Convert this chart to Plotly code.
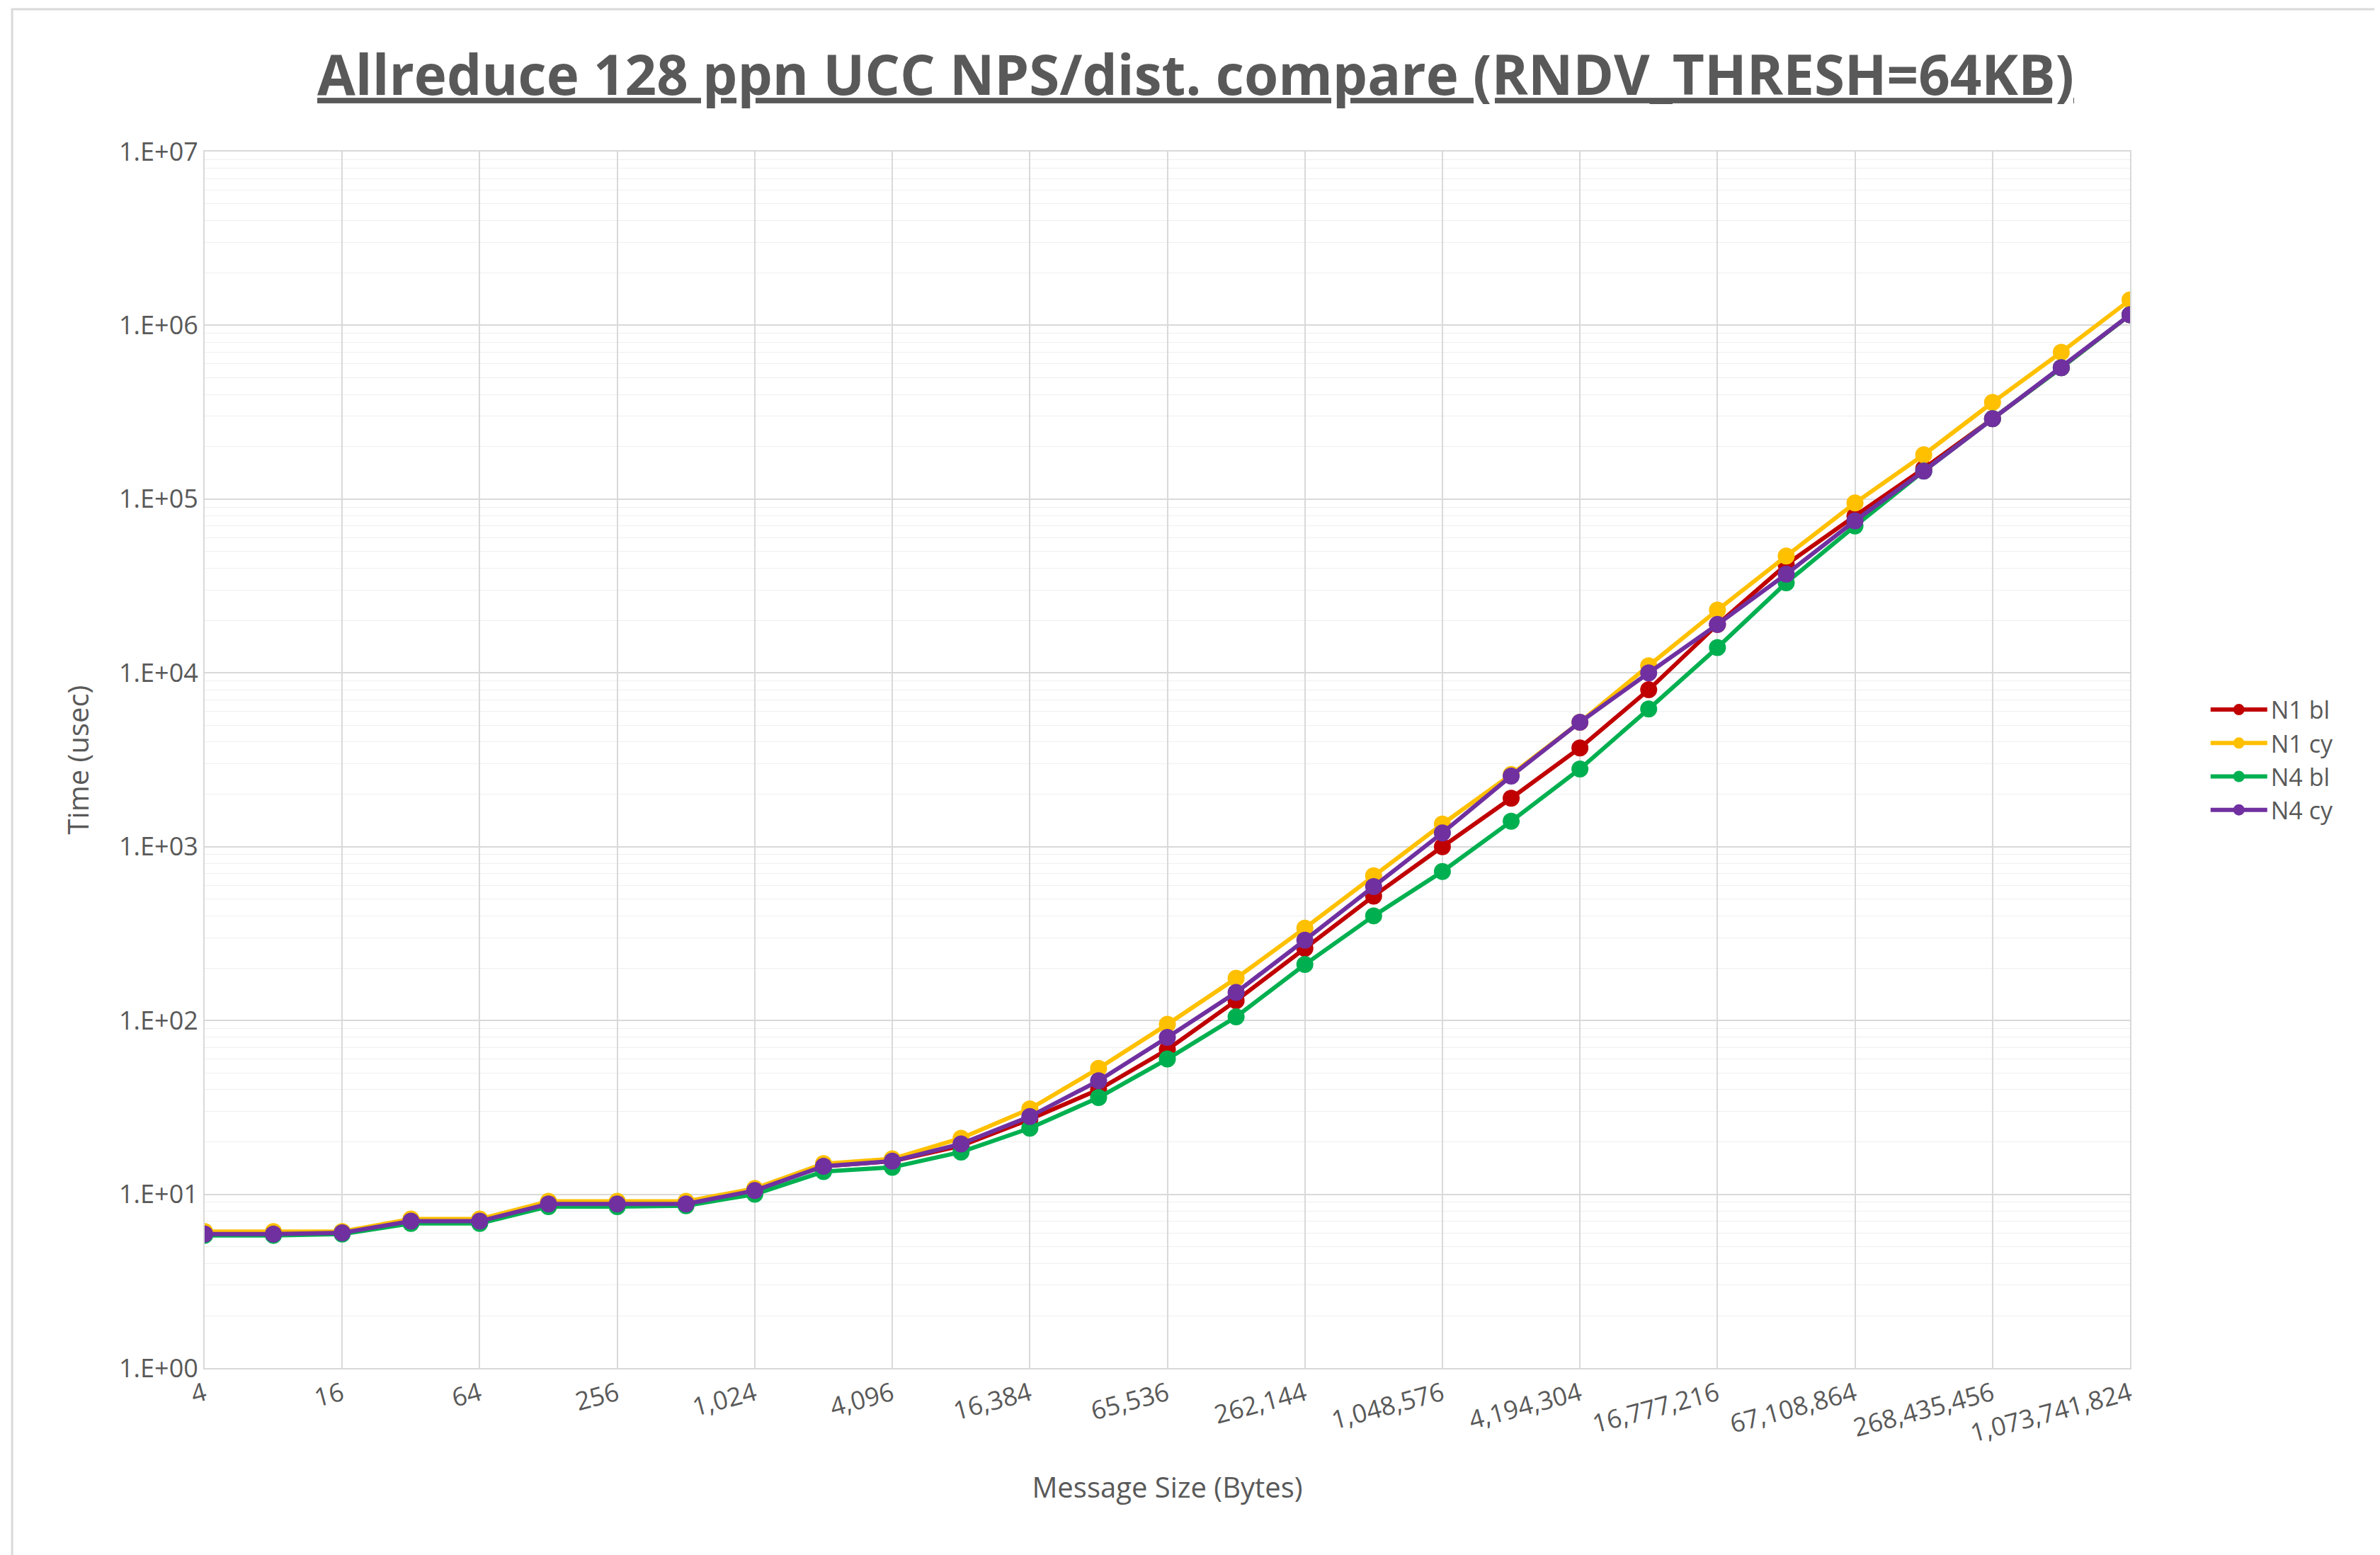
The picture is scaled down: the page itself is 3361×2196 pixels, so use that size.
import plotly.graph_objects as go

exps = list(range(2, 31))
sizes = [2**e for e in exps]
n1_bl = [6,6,6,7.1,7.1,9,9,9,10.6,14.5,15.5,19,27,40,68,130,260,520,1000,1900,3700,8000,19000,42000,80000,150000,290000,570000,1150000]
n1_cy = [6.1,6.1,6.1,7.2,7.2,9.1,9.1,9.1,10.8,15,16,21,31,53,95,175,340,680,1350,2600,5200,11000,23000,47000,95000,180000,360000,700000,1400000]
n4_bl = [5.8,5.8,5.9,6.8,6.8,8.5,8.5,8.6,10,13.5,14.3,17.5,24,36,60,105,210,400,720,1400,2800,6200,14000,33000,70000,145000,290000,570000,1150000]
n4_cy = [5.9,5.9,6,7,7,8.8,8.8,8.8,10.5,14.5,15.5,19.5,28,45,80,145,290,590,1200,2550,5200,10000,19000,37000,75000,145000,290000,570000,1150000]
series = [("N1 bl", n1_bl, "#C00000"), ("N1 cy", n1_cy, "#FFC000"),
          ("N4 bl", n4_bl, "#00B050"), ("N4 cy", n4_cy, "#7030A0")]
xtick_exps = list(range(2, 31, 2))
xtick_text = [f"{2**e:,}" for e in xtick_exps]
ytick_vals = [1, 10, 100, 1e3, 1e4, 1e5, 1e6, 1e7]
ytick_text = ["1.E+00", "1.E+01", "1.E+02", "1.E+03", "1.E+04", "1.E+05", "1.E+06", "1.E+07"]

fig = go.Figure()
for name, vals, col in series:
    fig.add_trace(go.Scatter(x=exps, y=vals, name=name, mode="lines+markers",
                             line=dict(color=col, width=6), marker=dict(color=col, size=24)))

fig.update_layout(
    width=3361, height=2196, paper_bgcolor="white", plot_bgcolor="white",
    font=dict(family="Open Sans, Liberation Sans, sans-serif", color="#595959", size=38),
    title=dict(text="<b><u>Allreduce 128 ppn UCC NPS/dist. compare (RNDV_THRESH=64KB)</u></b>",
               x=0.5, xanchor="center", y=0.955, yanchor="middle",
               font=dict(size=78, color="#595959")),
    margin=dict(l=281, r=361, t=206, b=272),
    legend=dict(x=1.04, y=0.5, xanchor="left", yanchor="middle", font=dict(size=34),
                tracegroupgap=30, itemwidth=80),
    showlegend=True,
)
fig.update_xaxes(range=[2, 30], tickmode="array", tickvals=xtick_exps, ticktext=xtick_text,
                 tickangle=-15, showgrid=True, gridcolor="#D9D9D9", gridwidth=2,
                 showline=True, linecolor="#D9D9D9", linewidth=2, zeroline=False,
                 title=dict(text="Message Size (Bytes)", font=dict(size=40), standoff=40),
                 tickfont=dict(size=36), mirror=True)
fig.update_yaxes(type="log", range=[0, 7], tickmode="array", tickvals=ytick_vals, ticktext=ytick_text,
                 showgrid=True, gridcolor="#D9D9D9", gridwidth=2,
                 minor=dict(dtick="D1", showgrid=True, gridcolor="#EFEFEF", gridwidth=1),
                 showline=True, linecolor="#D9D9D9", linewidth=2, mirror=True,
                 title=dict(text="Time (usec)", font=dict(size=40), standoff=30), tickfont=dict(size=36))
fig.add_shape(type="rect", xref="paper", yref="paper", x0=-0.1, x1=1.13, y0=-0.155, y1=1.117,
              line=dict(color="#D9D9D9", width=3))
fig.write_html("out.html")
